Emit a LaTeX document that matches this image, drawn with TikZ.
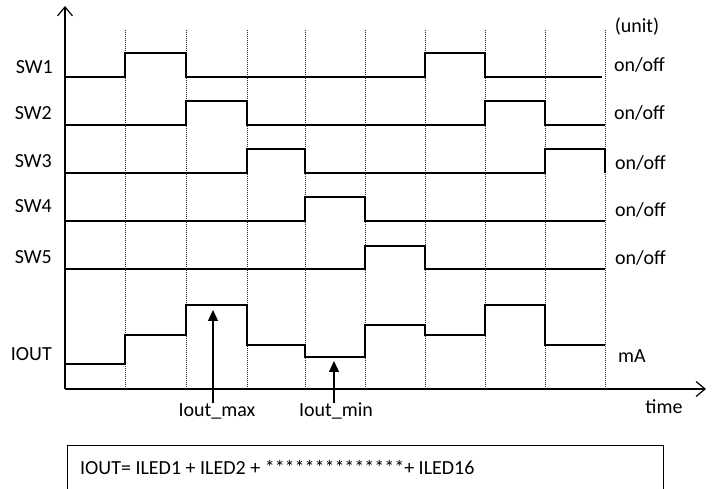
\documentclass[tikz,border=0pt]{standalone}
\usepackage{fontspec}
\setmainfont{Carlito}
\usetikzlibrary{arrows.meta}
\begin{document}
\begin{tikzpicture}[x=1pt,y=-1pt,
  lbl/.style={font=\fontsize{20}{24}\selectfont, inner sep=0pt},
  wave/.style={line width=2.8pt, line join=miter},
  axis/.style={line width=1.2pt, -{Straight Barb[length=9pt,width=15pt,line width=1.2pt]}},
  gridline/.style={line width=0.9pt, dash pattern=on 1pt off 1pt, black!85},
  marker/.style={line width=1.2pt, -{Triangle[length=11pt,width=10pt]}}]
\useasboundingbox (0,0) rectangle (716,489);

% time grid
\foreach \x in {125,186,247,305,365,425,485,545,605}
  \draw[gridline] (\x,30) -- (\x,389);

% axes
\coordinate (O) at (65,389);
\coordinate (ytop) at (65,6);
\coordinate (xend) at (706,389);
\draw[axis] (O) -- (ytop);
\draw[axis] (O) -- (xend);
\draw[line width=2pt] (248,389) -- (307,389);

% switch waveforms
\draw[wave] (65,77) -| (125,53) -| (186,77) -| (425,53) -| (485,77) -- (602,77);
\draw[wave] (65,125) -| (186,101) -| (247,125) -| (485,101) -| (545,125) -- (605,125);
\draw[wave] (64,173) -| (247,149) -| (305,173) -| (545,149) -| (605,173);
\draw[wave] (65,221) -| (305,197) -| (365,221) -- (605,221);
\draw[wave] (65,269) -| (365,246) -| (425,269) -- (605,269);

% output current
\draw[wave] (65,364) -| (125,335) -| (186,305) -| (247,345) -| (305,357)
  -| (365,325) -| (425,335) -| (485,305) -| (545,345) -- (605,345);

% signal names
\node[lbl, anchor=east] (sw1) at (53,67) {SW1};
\node[lbl, anchor=east] (sw2) at (52,113) {SW2};
\node[lbl, anchor=east] (sw3) at (52,161) {SW3};
\node[lbl, anchor=east] (sw4) at (52,206) {SW4};
\node[lbl, anchor=east] (sw5) at (52,257) {SW5};
\node[lbl, anchor=east] (iout) at (52,354) {IOUT};

% units
\node[lbl] (unit) at (637,27) {(unit)};
\node[lbl, anchor=west] (u1) at (614,65) {on/off};
\node[lbl, anchor=west] (u2) at (614,113) {on/off};
\node[lbl, anchor=west] (u3) at (615,163) {on/off};
\node[lbl, anchor=west] (u4) at (615,210) {on/off};
\node[lbl, anchor=west] (u5) at (615,258) {on/off};
\node[lbl] (ma) at (632,356) {mA};
\node[lbl] (time) at (664,407) {time};

% extreme markers
\node[lbl] (imax) at (217,411) {Iout\_max};
\node[lbl] (imin) at (336,411) {Iout\_min};
\coordinate (pmax) at (213,310);
\coordinate (pmin) at (334,361);
\draw[marker] (pmax |- imax.north) -- (pmax);
\draw[marker] (pmin |- imin.north) -- (pmin);

% formula box
\draw[line width=1pt] (67,492) -- (67,446) -- (663,446) -- (663,492);
\node[lbl, anchor=west] (formula) at (80,467)
  {IOUT= ILED1 + ILED2 + **************+ ILED16};
\end{tikzpicture}
\end{document}
